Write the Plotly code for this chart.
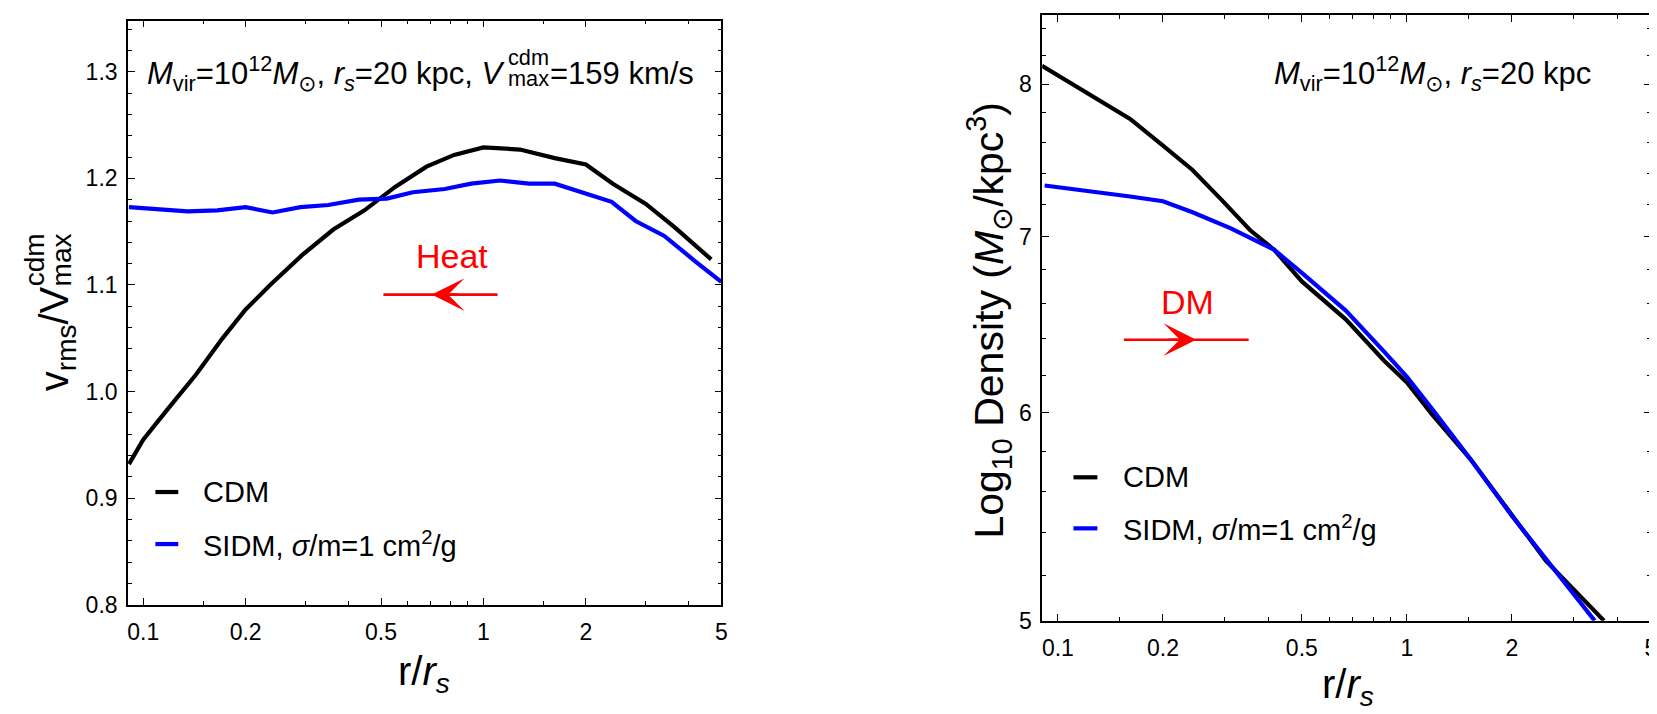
import math
import plotly.graph_objects as go

W, H = 1657, 714
FONT = "Liberation Sans, Arial, DejaVu Sans, sans-serif"

# ---------------- data: left panel (v_rms / V_max^cdm) ----------------
r_vel_cdm = [0.0908, 0.100, 0.119, 0.143, 0.171, 0.200, 0.236, 0.293, 0.362, 0.447,
             0.550, 0.680, 0.820, 1.000, 1.280, 1.620, 2.000, 2.400, 3.000, 3.650, 4.670]
vel_cdm = [0.932, 0.955, 0.985, 1.016, 1.050, 1.077, 1.100, 1.128, 1.152, 1.170,
           1.192, 1.211, 1.222, 1.229, 1.227, 1.219, 1.213, 1.195, 1.176, 1.154, 1.124]

r_vel_sidm = [0.0908, 0.115, 0.135, 0.165, 0.200, 0.240, 0.290, 0.350, 0.430, 0.520, 0.620,
              0.770, 0.920, 1.120, 1.360, 1.620, 1.960, 2.380, 2.800, 3.400, 4.200, 5.000]
vel_sidm = [1.173, 1.171, 1.169, 1.170, 1.173, 1.168, 1.173, 1.175, 1.180, 1.181, 1.187,
            1.190, 1.195, 1.198, 1.195, 1.195, 1.187, 1.178, 1.160, 1.146, 1.122, 1.103]

# ---------------- data: right panel (Log10 density) ----------------
r_den_cdm = [0.090, 0.129, 0.161, 0.200, 0.243, 0.294, 0.355, 0.416, 0.500, 0.668,
             0.859, 1.000, 1.180, 1.520, 2.000, 2.500, 3.670]
den_cdm = [8.13, 7.90, 7.76, 7.58, 7.42, 7.23, 7.04, 6.92, 6.73, 6.51,
           6.28, 6.16, 5.99, 5.76, 5.48, 5.27, 5.00]

r_den_sidm = [0.0916, 0.129, 0.161, 0.200, 0.243, 0.313, 0.416, 0.500, 0.668, 0.859,
              1.000, 1.180, 1.520, 2.000, 2.500, 3.450]
den_sidm = [7.32, 7.28, 7.25, 7.22, 7.15, 7.05, 6.92, 6.78, 6.56, 6.33,
            6.19, 6.02, 5.76, 5.48, 5.28, 5.00]

# ---------------- ticks ----------------
x_major = [0.1, 0.2, 0.5, 1, 2, 5]
x_major_text = ["0.1", "0.2", "0.5", "1", "2", "5"]
x_minor = [0.15, 0.3, 0.4, 0.6, 0.7, 0.8, 0.9, 1.5, 3, 4]
yl_major = [0.8, 0.9, 1.0, 1.1, 1.2, 1.3]
yr_major = [5, 6, 7, 8]
yr_minor = [5.2, 5.4, 5.6, 5.8, 6.2, 6.4, 6.6, 6.8, 7.2, 7.4, 7.6, 7.8, 8.2, 8.4]

# arrows / labels (data coordinates)
heat_shaft = [0.508, 1.10]
heat_head = [0.705, 0.853]   # tip, base
heat_y = 1.091
heat_label = (0.807, 1.127)
dm_shaft = [0.1545, 0.352]
dm_head = [0.249, 0.205]     # tip, base
dm_y = 6.395
dm_label = (0.2344, 6.607)

BLACK = "#000000"
BLUE = "#0000ff"
RED = "#ff0000"
LW = 4.2


def px(x):
    return x / W


def py(y):
    return 1 - y / H


fig = go.Figure()
fig.add_trace(go.Scatter(x=r_vel_cdm, y=vel_cdm, mode="lines", line=dict(color=BLACK, width=LW),
                         xaxis="x", yaxis="y", showlegend=False, hoverinfo="skip"))
fig.add_trace(go.Scatter(x=r_vel_sidm, y=vel_sidm, mode="lines", line=dict(color=BLUE, width=LW),
                         xaxis="x", yaxis="y", showlegend=False, hoverinfo="skip"))
fig.add_trace(go.Scatter(x=r_den_cdm, y=den_cdm, mode="lines", line=dict(color=BLACK, width=LW),
                         xaxis="x2", yaxis="y2", showlegend=False, hoverinfo="skip"))
fig.add_trace(go.Scatter(x=r_den_sidm, y=den_sidm, mode="lines", line=dict(color=BLUE, width=LW),
                         xaxis="x2", yaxis="y2", showlegend=False, hoverinfo="skip"))

axis_common = dict(
    showline=True, linecolor=BLACK, linewidth=1.8, mirror="ticks",
    ticks="inside", ticklen=7, tickwidth=1.3, tickcolor=BLACK,
    showgrid=False, zeroline=False,
    tickfont=dict(family=FONT, size=23, color=BLACK),
)

xaxis_common = dict(
    axis_common, type="log", tickmode="array", tickvals=x_major, ticktext=x_major_text,
    minor=dict(tickmode="array", tickvals=x_minor, ticks="inside", ticklen=4,
               tickwidth=1.2, tickcolor=BLACK, showgrid=False),
    ticklabelstandoff=6,
)

fig.update_layout(
    width=W, height=H,
    margin=dict(l=0, r=0, t=0, b=0),
    paper_bgcolor="white", plot_bgcolor="white",
    font=dict(family=FONT, color=BLACK),
    xaxis=dict(xaxis_common, domain=[px(119.6), px(715.5)], range=[-1.0444, 0.6995], anchor="y"),
    yaxis=dict(axis_common, domain=[py(608), py(12.75)], range=[0.8, 1.348], anchor="x",
               tickmode="array", tickvals=yl_major, tickformat=".1f", ticklabelstandoff=4,
               minor=dict(dtick=0.02, tick0=0.8, ticks="inside", ticklen=4, tickwidth=1.2,
                          tickcolor=BLACK, showgrid=False)),
    xaxis2=dict(xaxis_common, domain=[px(1037.6), px(1649)], range=[-1.045, 0.6995], anchor="y2"),
    yaxis2=dict(axis_common, type="log", domain=[py(624), py(7)],
                range=[math.log10(5), math.log10(8.5)], anchor="x2",
                tickmode="array", tickvals=yr_major, ticktext=[str(v) for v in yr_major],
                ticklabelstandoff=4,
                minor=dict(tickmode="array", tickvals=yr_minor, ticks="inside", ticklen=4,
                           tickwidth=1.2, tickcolor=BLACK, showgrid=False)),
)

shapes = []
annotations = []


def txt(x, y, text, size, color=BLACK, xanchor="center", yanchor="middle", angle=0):
    annotations.append(dict(xref="paper", yref="paper", x=px(x), y=py(y), text=text,
                            showarrow=False, xanchor=xanchor, yanchor=yanchor,
                            textangle=angle, font=dict(family=FONT, size=size, color=color)))


# --- arrows ---
for xr, yr, shaft, head, yv, ylog in [("x", "y", heat_shaft, heat_head, heat_y, heat_y),
                                      ("x2", "y2", dm_shaft, dm_head, dm_y, math.log10(dm_y))]:
    shapes.append(dict(type="line", xref=xr, yref=yr, x0=shaft[0], x1=shaft[1],
                       y0=yv, y1=yv, line=dict(color=RED, width=2.6)))
    annotations.append(dict(xref=xr, yref=yr, axref=xr, ayref=yr,
                            x=math.log10(head[0]), y=ylog,
                            ax=math.log10(head[1]), ay=ylog,
                            text="", showarrow=True, arrowhead=3, arrowsize=2.1, arrowwidth=2.6,
                            arrowcolor=RED, standoff=0))

annotations.append(dict(xref="x", yref="y", x=math.log10(heat_label[0]), y=heat_label[1],
                        text="Heat", showarrow=False, xanchor="center", yanchor="middle",
                        font=dict(family=FONT, size=34, color=RED)))
annotations.append(dict(xref="x2", yref="y2", x=math.log10(dm_label[0]), y=math.log10(dm_label[1]),
                        text="DM", showarrow=False, xanchor="center", yanchor="middle",
                        font=dict(family=FONT, size=34, color=RED)))

# --- panel texts (V with stacked cdm / max) ---
sun = "⊙"
F = 31
fs = round(0.7 * F, 1)
yb = 77.0                      # baseline of the header line
A_end = 501.0
stack_w = 1.889 * fs
txt(A_end, yb - 0.348 * F,
    f"<i>M</i><sub>vir</sub>=10<sup>12</sup><i>M</i><sub>{sun}</sub>, "
    "<i>r<sub>s</sub></i>=20 kpc, <i>V</i>", F, xanchor="right")
txt(A_end - 2, yb - 0.6 * F - 0.3465 * fs, "cdm", fs, xanchor="left")
txt(A_end - 2, yb + 0.08 * F - 0.3465 * fs, "max", fs, xanchor="left")
txt(A_end - 1 + stack_w, yb - 0.3465 * F, "=159 km/s", F, xanchor="left")

txt(1430, yb - 0.348 * F,
    f"<i>M</i><sub>vir</sub>=10<sup>12</sup><i>M</i><sub>{sun}</sub>, <i>r<sub>s</sub></i>=20 kpc", F)

# --- custom legends ---
legend_items = [("CDM", BLACK), ("SIDM, <i>σ</i>/m=1 cm<sup>2</sup>/g", BLUE)]
for (x0, x1, xt, rows) in [(147, 170, 193, [493, 546]), (1069, 1093, 1117, [478, 530])]:
    for (label, col), yy in zip(legend_items, rows):
        shapes.append(dict(type="line", xref="paper", yref="paper", x0=px(x0), x1=px(x1),
                           y0=py(yy), y1=py(yy), line=dict(color=col, width=LW)))
        txt(xt, yy, label, 29, xanchor="left")

# --- axis titles ---
# left y title: v_rms / V with stacked cdm over max (rotated)
TF = 40
tfs = 28
xb = 59.0                      # baseline x of rotated title
main_len = 2.611 * TF
stack_len = 1.889 * tfs
y_bottom = 310 + (main_len + stack_len) / 2
txt(xb - 0.2735 * TF, y_bottom - main_len / 2, "v<sub>rms</sub>/V", TF, angle=-90)
txt(xb - 0.6 * TF - 0.3465 * tfs, y_bottom - main_len - 1 - stack_len / 2, "cdm", tfs, angle=-90)
txt(xb + 0.08 * TF - 0.3465 * tfs, y_bottom - main_len - 1 - stack_len / 2, "max", tfs, angle=-90)

txt(417, 678, "r/<i>r<sub>s</sub></i>", 40)
txt(984.5, 318, f"Log<sub>10</sub> Density (<i>M</i><sub>{sun}</sub>/kpc<sup>3</sup>)", 41, angle=-90)
txt(1345, 692, "r/<i>r<sub>s</sub></i>", 40)

fig.update_layout(shapes=shapes, annotations=annotations)
fig.write_html("out.html")
